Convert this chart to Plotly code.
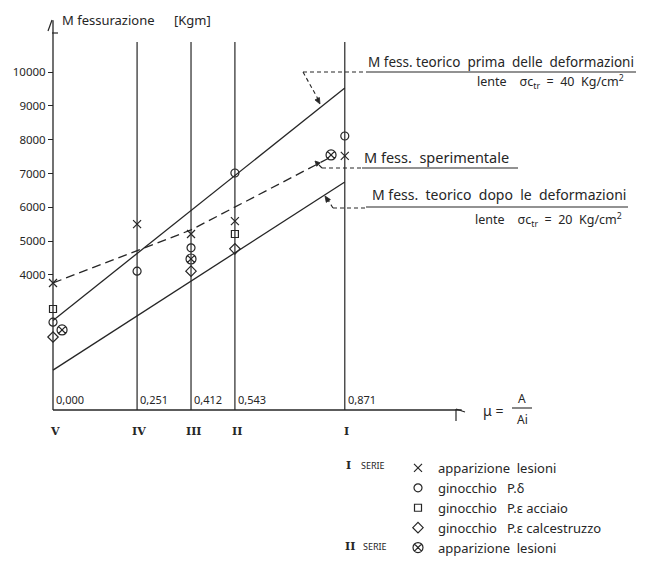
import math
import plotly.graph_objects as go

# ---- data -------------------------------------------------------------
# reinforcement ratio mu = A/Ai of the five test series
mu_values = [0.0, 0.251, 0.412, 0.543, 0.871]
mu_labels = ["0,000", "0,251", "0,412", "0,543", "0,871"]
series_roman = ["V", "IV", "III", "II", "I"]

# theoretical cracking moment lines [Kgm]
theory_mu = [0.0, 0.871]
m_theory_40 = [2650, 9530]      # before creep, sigma_ctr = 40 Kg/cm2
m_theory_20 = [1180, 6750]      # after creep, sigma_ctr = 20 Kg/cm2

# experimental cracking moment line [Kgm]
exp_mu = [0.0, 0.412, 0.83]
m_exp = [3760, 5330, 7490]

# I serie - appearance of cracks
s1_crack_mu = [0.0, 0.251, 0.412, 0.543, 0.871]
s1_crack_m = [3760, 5500, 5210, 5590, 7520]
# I serie - knee of the P-delta curve
s1_pd_mu = [0.0, 0.251, 0.412, 0.543, 0.871]
s1_pd_m = [2600, 4110, 4800, 7015, 8110]
# I serie - knee of the P-epsilon curve (steel)
s1_pe_steel_mu = [0.0, 0.543]
s1_pe_steel_m = [2990, 5210]
# I serie - knee of the P-epsilon curve (concrete)
s1_pe_conc_mu = [0.0, 0.412, 0.543]
s1_pe_conc_m = [2160, 4110, 4770]
# II serie - appearance of cracks
s2_crack_mu = [0.027, 0.412, 0.830]
s2_crack_m = [2370, 4470, 7550]

y_tick_values = [4000, 5000, 6000, 7000, 8000, 9000, 10000]
y_tick_text = ["4000", "5000", "6000", "7000", "8000", "9000", "10000"]
vline_top = 10890          # top of the vertical series lines [Kgm]
yaxis_top = 11540          # top of the moment axis [Kgm]
xaxis_end = 1.22           # end of the mu axis

# ---- layout geometry --------------------------------------------------
W, H = 649, 570
PX_PER_MU = 335.0
MU0_PX = 53.0
KGM_PER_PX = 29.6
BASE_PX = 410.0

INK = "#262626"
FONT = "Noto Sans"


def px(xp):
    return xp / W


def py(yp):
    return 1 - yp / H


fig = go.Figure()

line_style = dict(color=INK, width=1.3)
fig.add_trace(go.Scatter(x=theory_mu, y=m_theory_40, mode="lines",
                         line=line_style, showlegend=False, hoverinfo="skip"))
fig.add_trace(go.Scatter(x=theory_mu, y=m_theory_20, mode="lines",
                         line=line_style, showlegend=False, hoverinfo="skip"))
fig.add_trace(go.Scatter(x=exp_mu, y=m_exp, mode="lines",
                         line=dict(color=INK, width=1.3, dash="9px,5px"),
                         showlegend=False, hoverinfo="skip"))


def marker_trace(x, y, symbol, size, name):
    return go.Scatter(
        x=x, y=y, mode="markers", name=name, cliponaxis=False,
        marker=dict(symbol=symbol, size=size, color=INK,
                    line=dict(color=INK, width=1.2)))


fig.add_trace(marker_trace(s1_crack_mu, s1_crack_m, "x-thin-open", 8,
                           "apparizione  lesioni"))
fig.add_trace(marker_trace(s1_pd_mu, s1_pd_m, "circle-open", 8,
                           "ginocchio   P.δ"))
fig.add_trace(marker_trace(s1_pe_steel_mu, s1_pe_steel_m, "square-open", 7,
                           "ginocchio   P.ε acciaio"))
fig.add_trace(marker_trace(s1_pe_conc_mu, s1_pe_conc_m, "diamond-open", 8,
                           "ginocchio   P.ε calcestruzzo"))
fig.add_trace(marker_trace(s2_crack_mu, s2_crack_m, "circle-x-open", 10,
                           "apparizione  lesioni"))

shapes = []
# moment axis and mu axis
shapes.append(dict(type="line", xref="x", yref="y", x0=0, x1=0, y0=0,
                   y1=yaxis_top, line=dict(color=INK, width=1.3)))
shapes.append(dict(type="line", xref="x", yref="y", x0=0, x1=xaxis_end,
                   y0=0, y1=0, line=dict(color=INK, width=1.3)))
# vertical lines of the series
for m in mu_values[1:]:
    shapes.append(dict(type="line", xref="x", yref="y", x0=m, x1=m, y0=0,
                       y1=vline_top, line=dict(color=INK, width=1.2)))


def seg(x0, y0, x1, y1, dash="solid", width=1.1):
    shapes.append(dict(type="line", xref="paper", yref="paper",
                       x0=px(x0), x1=px(x1), y0=py(y0), y1=py(y1),
                       line=dict(color=INK, width=width, dash=dash)))


def arrowhead(tx, ty, fx, fy, length=6, half=2.5):
    """Filled arrow tip at (tx, ty) pointing away from (fx, fy)."""
    dx, dy = tx - fx, ty - fy
    n = math.hypot(dx, dy)
    ux, uy = dx / n, dy / n
    bx, by = tx - ux * length, ty - uy * length
    pts = [(tx, ty), (bx - uy * half, by + ux * half),
           (bx + uy * half, by - ux * half)]
    path = "M " + " L ".join(f"{px(a):.5f},{py(b):.5f}" for a, b in pts) + " Z"
    shapes.append(dict(type="path", xref="paper", yref="paper", path=path,
                       fillcolor=INK, line=dict(color=INK, width=0.8)))


# small arrow marks at the axis ends
seg(52, 20, 48, 31, width=1.2)
seg(52, 33, 58, 33, width=1.2)
seg(456, 409, 456, 421, width=1.2)
seg(456, 409, 465, 412, width=1.2)

# leaders of the line labels
seg(366, 72, 636, 72)
seg(303, 72, 366, 72, "4px,3px")
seg(303, 72, 318, 99, "4px,3px")
arrowhead(320, 104, 303, 72)
seg(362, 168, 518, 168)
seg(322, 168, 362, 168, "4px,3px")
seg(322, 168, 319, 165)
arrowhead(315, 161, 322, 168, length=5)
seg(366, 207, 628, 207)
seg(333, 208, 366, 208, "4px,3px")
seg(333, 208, 328, 200, "4px,3px")
arrowhead(325, 196, 333, 208)
# fraction bar of mu = A/Ai
seg(512, 408, 532, 408)

ann = []


def text(xp, yp, t, size=12, xanchor="left", yanchor="middle", family=FONT):
    ann.append(dict(xref="paper", yref="paper", x=px(xp), y=py(yp), text=t,
                    showarrow=False, xanchor=xanchor, yanchor=yanchor,
                    font=dict(family=family, size=size, color=INK)))


text(60, 20, "M fessurazione", 13)
text(172, 20, "[Kgm]", 13)
text(636, 62, "M fess. teorico  prima  delle  deformazioni", 13.5, "right")
text(626, 82, "lente    σc<sub>tr</sub>  =  40  Kg/cm<sup>2</sup>", 12.5,
     "right")
text(362, 157, "M fess.  sperimentale", 14.5)
text(628, 195, "M fess.  teorico  dopo  le  deformazioni", 14, "right")
text(624, 220, "lente    σc<sub>tr</sub>  =  20  Kg/cm<sup>2</sup>", 12.5,
     "right")

# mu = A / Ai
text(481, 410, "μ =", 14)
text(522, 398, "A", 12, "center")
text(522, 419, "Ai", 12, "center")

# mu values and series numerals
for m, lab, rom in zip(mu_values, mu_labels, series_roman):
    ann.append(dict(xref="x", yref="y", x=m, y=0, text=lab, showarrow=False,
                    xanchor="left", yanchor="bottom", xshift=1, yshift=1,
                    font=dict(family=FONT, size=11, color=INK)))
    ann.append(dict(xref="x", yref="paper", x=m, y=py(431),
                    text="<b>" + rom + "</b>",
                    showarrow=False, xanchor="center", yanchor="middle",
                    xshift=2, font=dict(family="DejaVu Serif", size=11,
                                        color=INK)))

# series labels beside the legend
text(348, 465, "<b>I</b>", 11, "center", family="DejaVu Serif")
text(359, 465, "SERIE", 9)
text(350, 546, "<b>II</b>", 11, "center", family="DejaVu Serif")
text(361, 546, "SERIE", 9)

fig.update_layout(
    width=W, height=H,
    margin=dict(l=0, r=0, t=0, b=0),
    paper_bgcolor="white", plot_bgcolor="white",
    showlegend=True,
    legend=dict(x=px(398), y=py(453), xanchor="left", yanchor="top",
                font=dict(family=FONT, size=13, color=INK),
                bgcolor="rgba(0,0,0,0)", tracegroupgap=0, itemwidth=30),
    xaxis=dict(range=[-MU0_PX / PX_PER_MU, (W - MU0_PX) / PX_PER_MU],
               visible=False, fixedrange=True),
    yaxis=dict(range=[-(H - BASE_PX) * KGM_PER_PX, BASE_PX * KGM_PER_PX],
               anchor="free", position=MU0_PX / W,
               showgrid=False, zeroline=False, showline=False,
               ticks="outside", ticklen=5, tickwidth=1.2, tickcolor=INK,
               tickvals=y_tick_values, ticktext=y_tick_text,
               tickfont=dict(family=FONT, size=11.5, color=INK),
               fixedrange=True),
    shapes=shapes,
    annotations=ann,
)

fig.write_html("out.html")
